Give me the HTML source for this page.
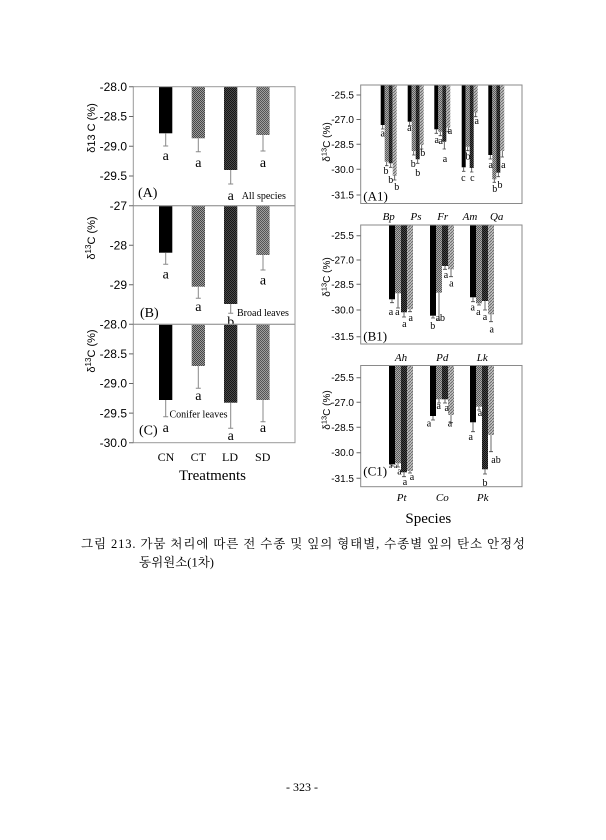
<!DOCTYPE html>
<html><head><meta charset="utf-8"><style>
html,body{margin:0;padding:0;background:#fff;}
svg{display:block;}
.s{font-family:"Liberation Sans",sans-serif;}
.r{font-family:"Liberation Serif",serif;}
.k{font-family:"Liberation Serif","Noto Serif CJK SC",serif;}
</style></head><body>
<svg width="606" height="840" viewBox="0 0 606 840" xmlns="http://www.w3.org/2000/svg">
<defs>
<pattern id="pCT" width="2" height="2" patternUnits="userSpaceOnUse"><rect width="2" height="2" fill="#9a9a9a"/><rect width="1" height="1" fill="#474747"/><rect x="1" y="1" width="1" height="1" fill="#474747"/></pattern>
<pattern id="pLD" width="2" height="2" patternUnits="userSpaceOnUse"><rect width="2" height="2" fill="#4a4a4a"/><rect width="1" height="1" fill="#161616"/><rect x="1" y="1" width="1" height="1" fill="#161616"/></pattern>
<pattern id="pSD" width="2" height="2" patternUnits="userSpaceOnUse"><rect width="2" height="2" fill="#a0a0a0"/><rect width="1" height="1" fill="#555"/><rect x="1" y="1" width="1" height="1" fill="#555"/></pattern>
<pattern id="q2" width="2" height="2" patternUnits="userSpaceOnUse"><rect width="2" height="2" fill="#aaa"/><rect width="1" height="1" fill="#5a5a5a"/><rect x="1" y="1" width="1" height="1" fill="#5a5a5a"/></pattern>
<pattern id="q3" width="2" height="2" patternUnits="userSpaceOnUse"><rect width="2" height="2" fill="#444"/><rect width="1" height="1" fill="#111"/><rect x="1" y="1" width="1" height="1" fill="#111"/></pattern>
<pattern id="q4" width="3" height="3" patternUnits="userSpaceOnUse"><rect width="3" height="3" fill="#c4c4c4"/><path d="M0,3 L3,0" stroke="#6a6a6a" stroke-width="1"/></pattern>
</defs>
<rect width="606" height="840" fill="#fff"/>

<!-- ============ LEFT PANELS ============ -->
<!-- Panel A -->
<rect x="159" y="86.7" width="13.3" height="46.6" fill="#000"/>
<rect x="191.7" y="86.7" width="13.3" height="51.6" fill="url(#pCT)"/>
<rect x="224" y="86.7" width="13.3" height="83.3" fill="url(#pLD)"/>
<rect x="256.3" y="86.7" width="13.3" height="48.3" fill="url(#pSD)"/>
<g stroke="#888" stroke-width="1">
<path d="M165.7,133.3V146M163.2,146H168.2"/>
<path d="M198.3,138.3V151.7M195.8,151.7H200.8"/>
<path d="M230.7,170V184M228.2,184H233.2"/>
<path d="M263,135V151M260.5,151H265.5"/>
</g>
<g class="r" font-size="14" text-anchor="middle" fill="#000">
<text x="165.7" y="160">a</text><text x="198.3" y="167">a</text><text x="230.7" y="200">a</text><text x="263" y="167">a</text>
</g>
<text class="r" x="138" y="197" font-size="14">(A)</text>
<text class="r" x="241.7" y="199" font-size="10">All species</text>

<!-- Panel B -->
<rect x="159" y="205.7" width="13.3" height="47" fill="#000"/>
<rect x="191.7" y="205.7" width="13.3" height="81" fill="url(#pCT)"/>
<rect x="224" y="205.7" width="13.3" height="98.3" fill="url(#pLD)"/>
<rect x="256.3" y="205.7" width="13.3" height="49.3" fill="url(#pSD)"/>
<g stroke="#888" stroke-width="1">
<path d="M165.7,252.7V264.3M163.2,264.3H168.2"/>
<path d="M198.3,286.7V298.3M195.8,298.3H200.8"/>
<path d="M230.7,304V313.3M228.2,313.3H233.2"/>
<path d="M263,255V270M260.5,270H265.5"/>
</g>
<g class="r" font-size="14" text-anchor="middle" fill="#000">
<text x="165.7" y="278.5">a</text><text x="198.3" y="311">a</text><text x="230.7" y="326">b</text><text x="263" y="284.5">a</text>
</g>
<text class="r" x="140" y="317" font-size="14">(B)</text>
<text class="r" x="237" y="316" font-size="10">Broad leaves</text>

<!-- Panel C -->
<rect x="159" y="324.3" width="13.3" height="75.7" fill="#000"/>
<rect x="191.7" y="324.3" width="13.3" height="41.7" fill="url(#pCT)"/>
<rect x="224" y="324.3" width="13.3" height="78.4" fill="url(#pLD)"/>
<rect x="256.3" y="324.3" width="13.3" height="75.7" fill="url(#pSD)"/>
<g stroke="#888" stroke-width="1">
<path d="M165.7,400V416.7M163.2,416.7H168.2"/>
<path d="M198.3,366V388.3M195.8,388.3H200.8"/>
<path d="M230.7,402.7V428.3M228.2,428.3H233.2"/>
<path d="M263,400V421.7M260.5,421.7H265.5"/>
</g>
<g class="r" font-size="14" text-anchor="middle" fill="#000">
<text x="165.7" y="432">a</text><text x="198.3" y="400">a</text><text x="230.7" y="440">a</text><text x="263" y="432">a</text>
</g>
<text class="r" x="169.5" y="417.5" font-size="10">Conifer leaves</text>
<text class="r" x="139" y="434.5" font-size="14">(C)</text>

<!-- left frames -->
<g fill="none" stroke="#9a9a9a" stroke-width="1">
<rect x="133.3" y="86.7" width="161.7" height="119"/>
<rect x="133.3" y="205.7" width="161.7" height="118.6"/>
<rect x="133.3" y="324.3" width="161.7" height="118.4"/>
</g>
<g stroke="#666" stroke-width="1">
<path d="M129,86.7H133.3M129,116.45H133.3M129,146.2H133.3M129,175.95H133.3M129,205.7H133.3"/>
<path d="M129,245.2H133.3M129,284.7H133.3M129,324.3H133.3"/>
<path d="M129,353.9H133.3M129,383.5H133.3M129,413.1H133.3M129,442.7H133.3"/>
</g>
<g class="s" font-size="12" text-anchor="end" fill="#000">
<text x="127" y="91">-28.0</text><text x="127" y="120.7">-28.5</text><text x="127" y="150.4">-29.0</text><text x="127" y="180.2">-29.5</text>
<text x="127" y="210">-27</text><text x="127" y="249.4">-28</text><text x="127" y="288.9">-29</text>
<text x="127" y="328.5">-28.0</text><text x="127" y="358.1">-28.5</text><text x="127" y="387.7">-29.0</text><text x="127" y="417.3">-29.5</text><text x="127" y="446.9">-30.0</text>
</g>
<g class="s" font-size="11" text-anchor="middle" fill="#000">
<text transform="translate(95,128) rotate(-90)">δ13 C (%)</text>
<text transform="translate(95,238) rotate(-90)">δ<tspan font-size="8" dy="-4">13</tspan><tspan dy="4">C (%)</tspan></text>
<text transform="translate(95,351) rotate(-90)">δ<tspan font-size="8" dy="-4">13</tspan><tspan dy="4">C (%)</tspan></text>
</g>
<g class="r" font-size="12" text-anchor="middle" fill="#000">
<text x="166" y="461">CN</text><text x="198.3" y="461">CT</text><text x="230" y="461">LD</text><text x="262.7" y="461">SD</text>
</g>
<text class="r" x="212.5" y="480" font-size="15" text-anchor="middle">Treatments</text>

<!-- ============ RIGHT PANELS ============ -->
<!-- A1 bars -->
<g>
<rect x="380.7" y="85" width="4" height="40" fill="#000"/>
<rect x="384.7" y="85" width="4" height="76.7" fill="url(#q2)"/>
<rect x="388.7" y="85" width="4" height="78.3" fill="url(#q3)"/>
<rect x="392.7" y="85" width="4" height="91" fill="url(#q4)"/>

<rect x="407.7" y="85" width="4" height="36.7" fill="#000"/>
<rect x="411.7" y="85" width="4" height="66" fill="url(#q2)"/>
<rect x="415.7" y="85" width="4" height="74.3" fill="url(#q3)"/>
<rect x="419.7" y="85" width="4" height="60" fill="url(#q4)"/>

<rect x="434.3" y="85" width="4" height="44.3" fill="#000"/>
<rect x="438.3" y="85" width="4" height="46.7" fill="url(#q2)"/>
<rect x="442.3" y="85" width="4" height="56.7" fill="url(#q3)"/>
<rect x="446.3" y="85" width="4" height="42.7" fill="url(#q4)"/>

<rect x="461.7" y="85" width="4" height="82.3" fill="#000"/>
<rect x="465.7" y="85" width="4" height="61.7" fill="url(#q2)"/>
<rect x="469.7" y="85" width="4" height="83" fill="url(#q3)"/>
<rect x="473.7" y="85" width="4" height="27.7" fill="url(#q4)"/>

<rect x="488.3" y="85" width="4" height="70" fill="#000"/>
<rect x="492.3" y="85" width="4" height="94.3" fill="url(#q2)"/>
<rect x="496.3" y="85" width="4" height="87.7" fill="url(#q3)"/>
<rect x="500.3" y="85" width="4" height="66" fill="url(#q4)"/>
</g>
<g stroke="#444" stroke-width="0.8">
<path d="M382.7,125V129M381,129H384.4M386.7,161.7V165.7M385,165.7H388.4M390.7,163.3V167.3M389,167.3H392.4M394.7,176V180M393,180H396.4"/>
<path d="M409.7,121.7V125.7M408,125.7H411.4M413.7,151V155M412,155H415.4M417.7,159.3V163.3M416,163.3H419.4M421.7,145V149M420,149H423.4"/>
<path d="M436.3,129.3V133.3M434.6,133.3H438M440.3,131.7V135.7M438.6,135.7H442M444.3,141.7V149M442.6,149H446M448.3,127.7V131.7M446.6,131.7H450"/>
<path d="M463.7,167.3V171.3M462,171.3H465.4M467.7,146.7V150.7M466,150.7H469.4M471.7,168V172M470,172H473.4M475.7,112.7V116.7M474,116.7H477.4"/>
<path d="M490.3,155V159M488.6,159H492M494.3,179.3V182.3M492.6,182.3H496M498.3,172.7V176.7M496.6,176.7H500M502.3,151V157M500.6,157H504"/>
</g>
<g class="r" font-size="10" text-anchor="middle" fill="#000">
<text x="382.7" y="136.5">a</text><text x="386" y="174">b</text><text x="390.7" y="183">b</text><text x="396.7" y="190">b</text>
<text x="409.3" y="131">a</text><text x="413.3" y="167">b</text><text x="417.7" y="176">b</text><text x="422.7" y="156">b</text>
<text x="436.7" y="143">a</text><text x="440.7" y="144">a</text><text x="445" y="162">a</text><text x="450" y="134">a</text>
<text x="463.3" y="181">c</text><text x="468" y="159.5">b</text><text x="472.3" y="181">c</text><text x="476.7" y="124">a</text>
<text x="490.7" y="168">a</text><text x="494.7" y="192">b</text><text x="500" y="188">b</text><text x="503.3" y="168">a</text>
</g>
<text class="r" x="363.3" y="200.5" font-size="13">(A1)</text>

<!-- B1 bars -->
<g>
<rect x="389" y="225" width="6" height="74.3" fill="#000"/>
<rect x="395" y="225" width="6" height="68.3" fill="url(#q2)"/>
<rect x="401" y="225" width="6" height="87.3" fill="url(#q3)"/>
<rect x="407" y="225" width="6" height="84.3" fill="url(#q4)"/>

<rect x="430" y="225" width="6" height="90.7" fill="#000"/>
<rect x="436" y="225" width="6" height="67.7" fill="url(#q2)"/>
<rect x="442" y="225" width="6" height="41" fill="url(#q3)"/>
<rect x="448" y="225" width="6" height="44.3" fill="url(#q4)"/>

<rect x="470" y="225" width="6" height="72.3" fill="#000"/>
<rect x="476" y="225" width="6" height="78.3" fill="url(#q2)"/>
<rect x="482" y="225" width="6" height="76" fill="url(#q3)"/>
<rect x="488" y="225" width="6" height="89.3" fill="url(#q4)"/>
</g>
<g stroke="#444" stroke-width="0.8">
<path d="M392,299.3V302.7M390,302.7H394M398,293.3V308M396,308H400M404,312.3V317M402,317H406M410,309.3V311.7M408,311.7H412"/>
<path d="M433,315.7V318M431,318H435M439,292.7V320M437,320H441M445,266V269.3M443,269.3H447M451,269.3V276.7M449,276.7H453"/>
<path d="M473,297.3V301.7M471,301.7H475M479,303.3V305M477,305H481M485,301V310M483,310H487M491,314.3V321.7M489,321.7H493"/>
</g>
<g class="r" font-size="10" text-anchor="middle" fill="#000">
<text x="391" y="315">a</text><text x="397.3" y="315">a</text><text x="404.3" y="327">a</text><text x="410.7" y="321">a</text>
<text x="432.7" y="329">b</text><text x="440.3" y="321">ab</text><text x="446" y="278">a</text><text x="451.3" y="286.5">a</text>
<text x="472.7" y="310.5">a</text><text x="478.3" y="315">a</text><text x="485" y="320">a</text><text x="491.7" y="332.5">a</text>
</g>
<text class="r" x="363.3" y="340.5" font-size="13">(B1)</text>

<!-- C1 bars -->
<g>
<rect x="389" y="365.5" width="6" height="98.8" fill="#000"/>
<rect x="395" y="365.5" width="6" height="97.8" fill="url(#q2)"/>
<rect x="401" y="365.5" width="6" height="106.8" fill="url(#q3)"/>
<rect x="407" y="365.5" width="6" height="105.5" fill="url(#q4)"/>

<rect x="430" y="365.5" width="6" height="50.5" fill="#000"/>
<rect x="436" y="365.5" width="6" height="33.8" fill="url(#q2)"/>
<rect x="442" y="365.5" width="6" height="33.8" fill="url(#q3)"/>
<rect x="448" y="365.5" width="6" height="49.5" fill="url(#q4)"/>

<rect x="470" y="365.5" width="6" height="56.8" fill="#000"/>
<rect x="476" y="365.5" width="6" height="41.2" fill="url(#q2)"/>
<rect x="482" y="365.5" width="6" height="103.8" fill="url(#q3)"/>
<rect x="488" y="365.5" width="6" height="69.5" fill="url(#q4)"/>
</g>
<g stroke="#444" stroke-width="0.8">
<path d="M392,464.3V466M390,466H394M398,463.3V467M396,467H400M404,472.3V476.7M402,476.7H406M410,471V473M408,473H412"/>
<path d="M433,416V420M431,420H435M439,399.3V403M437,403H441M445,399.3V403M443,403H447M451,415V422.7M449,422.7H453"/>
<path d="M473,422.3V431.7M471,431.7H475M479,406.7V410M477,410H481M485,469.3V474M483,474H487M491,435V451.7M489,451.7H493"/>
</g>
<g class="r" font-size="10" text-anchor="middle" fill="#000">
<text x="390.5" y="468" font-size="7">a</text><text x="395.5" y="468" font-size="7">a</text><text x="399.5" y="474.5">a</text><text x="405" y="485">a</text><text x="412" y="480">a</text>
<text x="429" y="426.5">a</text><text x="438.7" y="409">a</text><text x="446.7" y="411">a</text><text x="450" y="426.5">a</text>
<text x="470.7" y="440">a</text><text x="480" y="416">a</text><text x="485" y="486">b</text><text x="496" y="463">ab</text>
</g>
<text class="r" x="363.3" y="475.5" font-size="13">(C1)</text>

<!-- right frames -->
<g fill="none" stroke="#8a8a8a" stroke-width="1">
<rect x="360.7" y="85" width="161.3" height="118.5"/>
<rect x="360.7" y="225" width="161.3" height="119"/>
<rect x="360.7" y="365.5" width="161.3" height="121.2"/>
</g>
<g stroke="#666" stroke-width="1">
<path d="M356.5,95H360.7M356.5,119.5H360.7M356.5,144.3H360.7M356.5,169.3H360.7M356.5,195H360.7"/>
<path d="M356.5,235.7H360.7M356.5,260H360.7M356.5,284.3H360.7M356.5,310H360.7M356.5,336.7H360.7"/>
<path d="M356.5,377.7H360.7M356.5,402.3H360.7M356.5,427.3H360.7M356.5,452.7H360.7M356.5,478.3H360.7"/>
</g>
<g class="s" font-size="10" text-anchor="end" fill="#000">
<text x="354" y="98.5">-25.5</text><text x="354" y="123">-27.0</text><text x="354" y="147.8">-28.5</text><text x="354" y="172.8">-30.0</text><text x="354" y="198.5">-31.5</text>
<text x="354" y="239.2">-25.5</text><text x="354" y="263.5">-27.0</text><text x="354" y="287.8">-28.5</text><text x="354" y="313.5">-30.0</text><text x="354" y="340.2">-31.5</text>
<text x="354" y="381.2">-25.5</text><text x="354" y="405.8">-27.0</text><text x="354" y="430.8">-28.5</text><text x="354" y="456.2">-30.0</text><text x="354" y="481.8">-31.5</text>
</g>
<g class="s" font-size="10" text-anchor="middle" fill="#000">
<text transform="translate(330,142) rotate(-90)">δ<tspan font-size="7.5" dy="-3.5">13</tspan><tspan dy="3.5">C (%)</tspan></text>
<text transform="translate(330,277) rotate(-90)">δ<tspan font-size="7.5" dy="-3.5">13</tspan><tspan dy="3.5">C (%)</tspan></text>
<text transform="translate(330,410) rotate(-90)">δ<tspan font-size="7.5" dy="-3.5">13</tspan><tspan dy="3.5">C (%)</tspan></text>
</g>
<g class="r" font-size="11" font-style="italic" text-anchor="middle" fill="#000">
<text x="388.7" y="220">Bp</text><text x="416" y="220">Ps</text><text x="442.7" y="220">Fr</text><text x="470" y="220">Am</text><text x="496.7" y="220">Qa</text>
<text x="401" y="361">Ah</text><text x="442.3" y="361">Pd</text><text x="482.3" y="361">Lk</text>
<text x="401.7" y="501">Pt</text><text x="442.3" y="501">Co</text><text x="482.7" y="501">Pk</text>
</g>
<text class="r" x="428.3" y="523" font-size="15" text-anchor="middle">Species</text>

<!-- caption -->
<text class="k" x="81" y="548" font-size="12.5" textLength="444" lengthAdjust="spacing">그림 213. 가뭄 처리에 따른 전 수종 및 잎의 형태별, 수종별 잎의 탄소 안정성</text>
<text class="k" x="139" y="566.5" font-size="12.5">동위원소(1차)</text>

<text class="r" x="302" y="791" font-size="12" text-anchor="middle">- 323 -</text>
</svg>
</body></html>
